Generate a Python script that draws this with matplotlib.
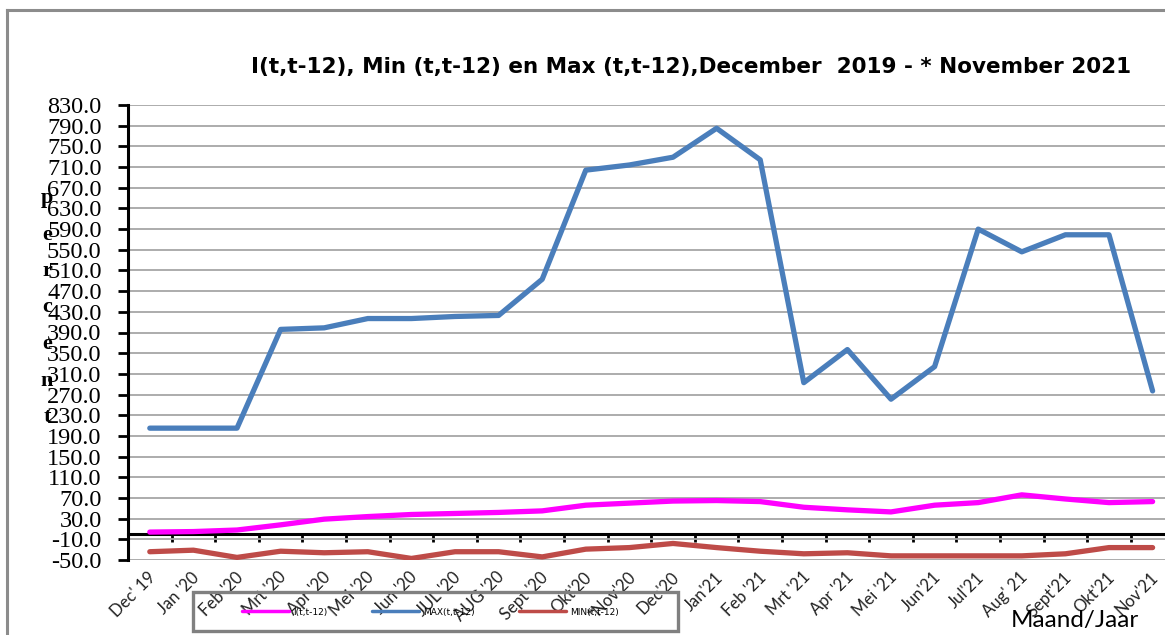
import matplotlib
matplotlib.use("Agg")
import matplotlib.pyplot as plt
from matplotlib.lines import Line2D
from matplotlib.patches import Rectangle
import numpy as np

months = ["Dec' 19", "Jan '20", "Feb '20", "Mrt '20", "Apr '20", "Mei '20",
          "Jun '20", "JUL '20", "AUG '20", "Sept '20", "Okt'20", "*Nov'20",
          "Dec'20", "Jan'21", "Feb '21", "Mrt '21", "Apr '21", "Mei '21",
          "Jun'21", "Jul'21", "Aug' 21", "Sept'21", "Okt'21", "Nov'21"]

i_vals = [4, 5, 8, 18, 29, 34, 38, 40, 42, 45, 56, 60,
          64, 65, 63, 52, 47, 43, 56, 61, 76, 68, 61, 63]
max_vals = [205, 205, 205, 396, 399, 417, 417, 421, 423, 493, 704, 714,
            729, 785, 724, 293, 357, 261, 324, 590, 546, 579, 579, 277]
min_vals = [-34, -31, -45, -33, -36, -34, -47, -34, -34, -44, -29, -26,
            -18, -26, -33, -38, -36, -42, -42, -42, -42, -38, -26, -26]

yticks = np.arange(-50, 831, 40)

W, H = 1165, 635
fig = plt.figure(figsize=(W / 100, H / 100), dpi=100)

# plot area runs past the right edge of the picture, as in the original crop
left, right, top, bottom = 128, 1174.4, 105, 560
ax = fig.add_axes([left / W, 1 - bottom / H, (right - left) / W, (bottom - top) / H])

x = np.arange(len(months))
l_i, = ax.plot(x, i_vals, color="#ff00ff", lw=3.8, solid_capstyle="round", zorder=3)
l_max, = ax.plot(x, max_vals, color="#4a7ebb", lw=3.8, solid_capstyle="round", zorder=3)
l_min, = ax.plot(x, min_vals, color="#be4b48", lw=3.8, solid_capstyle="round", zorder=3)

ax.set_xlim(-0.5, len(months) - 0.5)
ax.set_ylim(-50, 830)
ax.set_yticks(yticks)
ax.set_yticklabels([f"{v:.1f}" for v in yticks], family="Liberation Serif", fontsize=17.5)
ax.yaxis.grid(True, color="#a6a6a6", lw=1.3)
ax.set_axisbelow(True)
ax.tick_params(axis="y", direction="out", length=7, width=2, pad=12)

for s in ["top", "right"]:
    ax.spines[s].set_visible(False)
ax.spines["left"].set_linewidth(2.2)
ax.spines["bottom"].set_position(("data", 0))
ax.spines["bottom"].set_linewidth(2.2)
ax.set_xticks(np.arange(len(months) + 1) - 0.5)
ax.tick_params(axis="x", direction="out", length=6, width=2, labelbottom=False)

trans = ax.get_xaxis_transform()
for xi, lab in zip(x, months):
    ax.text(xi - 0.05, -0.02, lab, transform=trans, rotation=45, rotation_mode="anchor",
            ha="right", va="top", family="Lato", fontsize=12, color="#222222")

fig.text(691 / W, 1 - 67 / H, "I(t,t-12), Min (t,t-12) en Max (t,t-12),December  2019 - * November 2021",
         ha="center", va="center", fontsize=15.5, fontweight="bold",
         family=["Liberation Sans Narrow", "DejaVu Sans"])

for k, ch in enumerate("percent"):
    fig.text(47 / W, 1 - (198 + 36.5 * k) / H, ch, ha="center", va="center",
             fontsize=16, fontweight="bold", family="Liberation Serif")

fig.text(1075 / W, 1 - 620 / H, "Maand/Jaar", ha="center", va="center",
         fontsize=17.5, family="Lato")

# legend box drawn separately so it keeps the reference size
fig.add_artist(Rectangle((193 / W, 1 - 631 / H), 485 / W, 39 / H, transform=fig.transFigure,
                         facecolor="none", edgecolor="#808080", lw=2.4))
leg = fig.legend([l_i, l_max, l_min], ["I(t,t-12)", "MAX(t,t-12)", "MIN(t,t-12)"],
                 loc="center left", ncol=3, bbox_to_anchor=(234 / W, 1 - 612 / H),
                 fontsize=6.5, handlelength=5.2, handletextpad=0.4,
                 columnspacing=5.0, frameon=False)
for h in leg.get_lines():
    h.set_linewidth(2.5)

# outer chart frame, only its left and top edges are inside the crop
fig.add_artist(Line2D([7 / W, 7 / W], [0, 1 - 10 / H], color="#8c8c8c", lw=2.2))
fig.add_artist(Line2D([7 / W, 1], [1 - 10 / H, 1 - 10 / H], color="#8c8c8c", lw=2.2))

fig.savefig("out.png", dpi=100)
